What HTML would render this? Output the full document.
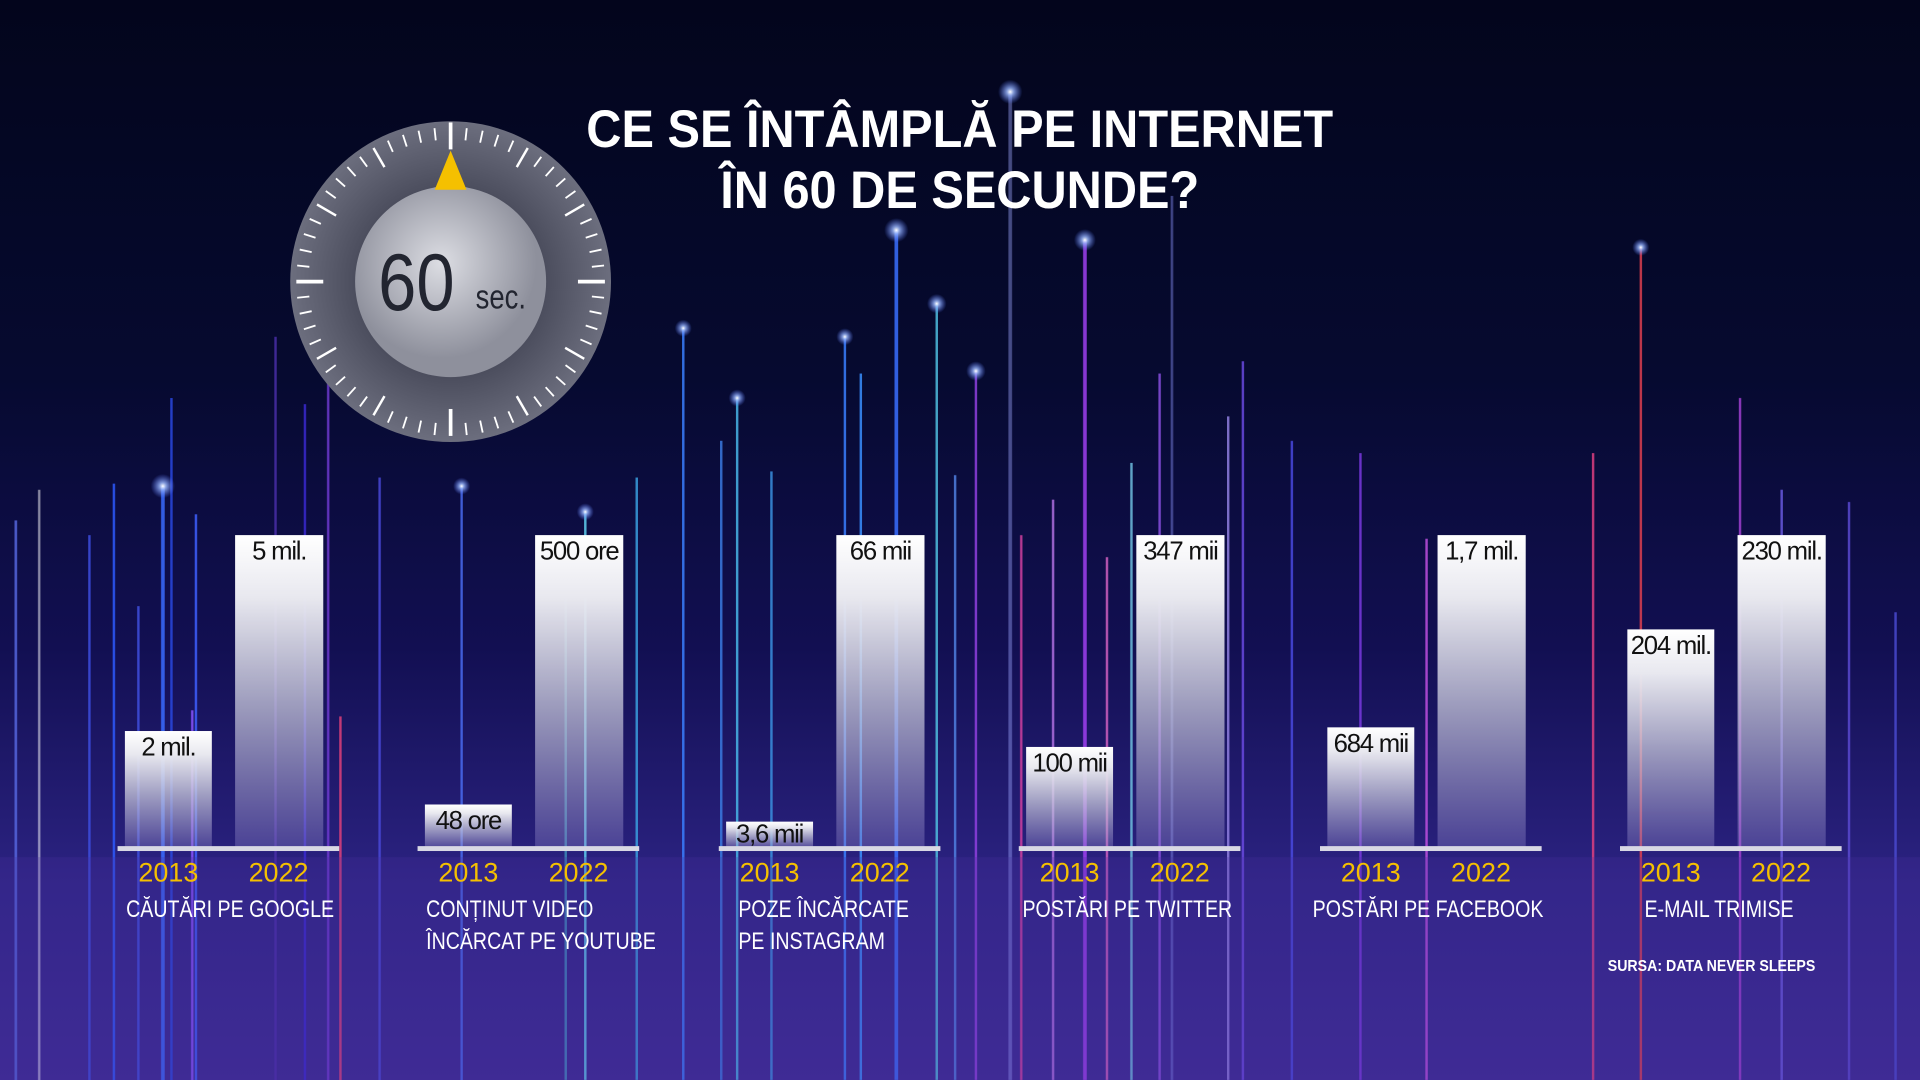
<!DOCTYPE html>
<html><head><meta charset="utf-8"><style>
html,body{margin:0;padding:0;width:1920px;height:1080px;overflow:hidden;background:#050826}
#s{position:absolute;left:0;top:0;width:1568px;height:882px;transform:scale(1.22449);transform-origin:0 0;
background:linear-gradient(180deg,#03051c 0%,#060a30 35%,#120f52 60%,#2c2383 82%,#3b2a92 100%);font-family:"Liberation Sans",sans-serif;overflow:hidden}
svg{position:absolute;left:0;top:0}
.t{position:absolute;left:0;width:1568px;text-align:center;color:#fff;font-family:"Liberation Sans",sans-serif;font-weight:bold;font-size:43px;transform:scaleX(0.925);transform-origin:781px 0}
.bar{position:absolute;background:linear-gradient(180deg,#ffffff 0%,#e8e8ef 20%,rgba(200,200,220,0.75) 55%,rgba(140,130,200,0.35) 100%)}
.v{position:absolute;left:0;right:0;top:2px;text-align:center;color:#111;font-size:21px;font-family:"Liberation Sans",sans-serif;letter-spacing:-1px;white-space:nowrap}
.base{position:absolute;height:4px;background:#d8d8e4;top:691px;width:181px}
.y{position:absolute;top:700px;color:#f5c000;font-size:22px;font-family:"Liberation Sans",sans-serif}
.c{position:absolute;top:730px;color:#fff;font-size:20px;line-height:26px;white-space:nowrap;transform:scaleX(0.8);transform-origin:0 0}
</style></head><body><div id="s">
<svg width="1568" height="882">
<defs>
<radialGradient id="glow"><stop offset="0" stop-color="#fff"/><stop offset="0.3" stop-color="#9bb8ff" stop-opacity="0.8"/><stop offset="1" stop-color="#5a7bff" stop-opacity="0"/></radialGradient>
<radialGradient id="face" cx="0.45" cy="0.4"><stop offset="0" stop-color="#dcdde3"/><stop offset="1" stop-color="#8e909c"/></radialGradient>
<radialGradient id="ring" cx="0.5" cy="0.5"><stop offset="0.6" stop-color="#4c4e5e"/><stop offset="1" stop-color="#6c6e7e"/></radialGradient>
</defs>
<g stroke-width="2" opacity="0.85">
<line x1="13" y1="425" x2="13" y2="882" stroke="#5566dd"/>
<line x1="32" y1="400" x2="32" y2="882" stroke="#ffffff" stroke-width="2" opacity="0.6"/>
<line x1="73" y1="437" x2="73" y2="882" stroke="#3e4ee0"/>
<line x1="93" y1="395" x2="93" y2="882" stroke="#2f5cff"/>
<line x1="113" y1="495" x2="113" y2="882" stroke="#4050e0"/>
<line x1="133" y1="397" x2="133" y2="882" stroke="#3a6cff" stroke-width="3"/>
<line x1="140" y1="325" x2="140" y2="882" stroke="#2a48e0"/>
<line x1="160" y1="420" x2="160" y2="882" stroke="#3f60ff"/>
<line x1="157" y1="580" x2="157" y2="882" stroke="#8a55ff"/>
<line x1="225" y1="275" x2="225" y2="882" stroke="#4a2fa8"/>
<line x1="249" y1="330" x2="249" y2="882" stroke="#3a2ad0"/>
<line x1="268" y1="298" x2="268" y2="882" stroke="#6f3ad0"/>
<line x1="278" y1="585" x2="278" y2="882" stroke="#e0407a"/>
<line x1="310" y1="390" x2="310" y2="882" stroke="#4a4ad8"/>
<line x1="377" y1="397" x2="377" y2="882" stroke="#4a6cf0"/>
<line x1="462" y1="460" x2="462" y2="882" stroke="#4ad0e0" opacity="0.6"/>
<line x1="478" y1="418" x2="478" y2="882" stroke="#60d0f0"/>
<line x1="520" y1="390" x2="520" y2="882" stroke="#3aa0e0"/>
<line x1="558" y1="268" x2="558" y2="882" stroke="#3a80ff"/>
<line x1="589" y1="360" x2="589" y2="882" stroke="#3a7ae0"/>
<line x1="602" y1="325" x2="602" y2="882" stroke="#48b6e8"/>
<line x1="630" y1="385" x2="630" y2="882" stroke="#3a90e0"/>
<line x1="690" y1="275" x2="690" y2="882" stroke="#3a80ff"/>
<line x1="703" y1="305" x2="703" y2="882" stroke="#3a90ff"/>
<line x1="732" y1="188" x2="732" y2="882" stroke="#3a70ff" stroke-width="3"/>
<line x1="765" y1="248" x2="765" y2="882" stroke="#50c0e0"/>
<line x1="780" y1="388" x2="780" y2="882" stroke="#5080e0"/>
<line x1="797" y1="303" x2="797" y2="882" stroke="#9040e0"/>
<line x1="825" y1="75" x2="825" y2="882" stroke="#a0a8ff" stroke-width="3" opacity="0.5"/>
<line x1="834" y1="437" x2="834" y2="882" stroke="#d040a0"/>
<line x1="860" y1="408" x2="860" y2="882" stroke="#b070e0"/>
<line x1="886" y1="196" x2="886" y2="882" stroke="#a040f0" stroke-width="3"/>
<line x1="904" y1="455" x2="904" y2="882" stroke="#d060c0"/>
<line x1="924" y1="378" x2="924" y2="882" stroke="#70c0e0"/>
<line x1="947" y1="305" x2="947" y2="882" stroke="#8a50e0"/>
<line x1="957" y1="160" x2="957" y2="882" stroke="#7a80e0" opacity="0.6"/>
<line x1="1003" y1="340" x2="1003" y2="882" stroke="#9080e0"/>
<line x1="1015" y1="295" x2="1015" y2="882" stroke="#6a4ae0"/>
<line x1="1055" y1="360" x2="1055" y2="882" stroke="#4a4ae0"/>
<line x1="1111" y1="370" x2="1111" y2="882" stroke="#7a3ae0"/>
<line x1="1165" y1="440" x2="1165" y2="882" stroke="#c050e0"/>
<line x1="1301" y1="370" x2="1301" y2="882" stroke="#e04080"/>
<line x1="1340" y1="202" x2="1340" y2="882" stroke="#e04050"/>
<line x1="1421" y1="325" x2="1421" y2="882" stroke="#a040d0"/>
<line x1="1455" y1="400" x2="1455" y2="882" stroke="#6a5ae0"/>
<line x1="1510" y1="410" x2="1510" y2="882" stroke="#5a4ad0"/>
<line x1="1548" y1="500" x2="1548" y2="882" stroke="#4a4ad0"/>
</g>
<g>
<circle cx="133" cy="397" r="10" fill="url(#glow)"/><circle cx="732" cy="188" r="10" fill="url(#glow)"/>
<circle cx="825" cy="75" r="10" fill="url(#glow)"/><circle cx="886" cy="196" r="9" fill="url(#glow)"/>
<circle cx="765" cy="248" r="8" fill="url(#glow)"/><circle cx="558" cy="268" r="7" fill="url(#glow)"/>
<circle cx="690" cy="275" r="7" fill="url(#glow)"/><circle cx="602" cy="325" r="7" fill="url(#glow)"/>
<circle cx="797" cy="303" r="8" fill="url(#glow)"/><circle cx="1340" cy="202" r="7" fill="url(#glow)"/>
<circle cx="377" cy="397" r="7" fill="url(#glow)"/><circle cx="478" cy="418" r="7" fill="url(#glow)"/>
</g>
<rect x="0" y="700" width="1568" height="182" fill="#4a30a0" opacity="0.25"/>
<circle cx="368" cy="230" r="131" fill="url(#ring)"/>
<g stroke="#fff" stroke-width="2" id="ticks"></g>
<circle cx="368" cy="230" r="78" fill="url(#face)"/>
<polygon points="368,123 355,155 381,155" fill="#f5c000"/>
<text x="340" y="253" font-family="Liberation Sans,sans-serif" font-size="66" fill="#222530" text-anchor="middle" transform="translate(340 0) scale(0.85 1) translate(-340 0)">60</text>
<text x="409" y="252" font-family="Liberation Sans,sans-serif" font-size="28" fill="#222530" text-anchor="middle" transform="translate(409 0) scale(0.8 1) translate(-409 0)">sec.</text>
</svg>
<div class="t" style="top:82px">CE SE ÎNTÂMPLĂ PE INTERNET</div>
<div class="t" style="top:132px">ÎN 60 DE SECUNDE?</div>

<div class="bar" style="left:102px;top:597px;width:71px;height:96px"><div class="v">2 mil.</div></div>
<div class="bar" style="left:192px;top:437px;width:72px;height:256px"><div class="v">5 mil.</div></div>
<div class="base" style="left:96px"></div>
<div class="bar" style="left:347px;top:657px;width:71px;height:36px"><div class="v">48 ore</div></div>
<div class="bar" style="left:437px;top:437px;width:72px;height:256px"><div class="v">500 ore</div></div>
<div class="base" style="left:341px"></div>
<div class="bar" style="left:593px;top:671px;width:71px;height:22px"><div class="v" style="top:-1px">3,6 mii</div></div>
<div class="bar" style="left:683px;top:437px;width:72px;height:256px"><div class="v">66 mii</div></div>
<div class="base" style="left:587px"></div>
<div class="bar" style="left:838px;top:610px;width:71px;height:83px"><div class="v">100 mii</div></div>
<div class="bar" style="left:928px;top:437px;width:72px;height:256px"><div class="v">347 mii</div></div>
<div class="base" style="left:832px"></div>
<div class="bar" style="left:1084px;top:594px;width:71px;height:99px"><div class="v">684 mii</div></div>
<div class="bar" style="left:1174px;top:437px;width:72px;height:256px"><div class="v">1,7 mil.</div></div>
<div class="base" style="left:1078px"></div>
<div class="bar" style="left:1329px;top:514px;width:71px;height:179px"><div class="v">204 mil.</div></div>
<div class="bar" style="left:1419px;top:437px;width:72px;height:256px"><div class="v">230 mil.</div></div>
<div class="base" style="left:1323px"></div>

<div class="y" style="left:113px">2013</div><div class="y" style="left:203px">2022</div>
<div class="y" style="left:358px">2013</div><div class="y" style="left:448px">2022</div>
<div class="y" style="left:604px">2013</div><div class="y" style="left:694px">2022</div>
<div class="y" style="left:849px">2013</div><div class="y" style="left:939px">2022</div>
<div class="y" style="left:1095px">2013</div><div class="y" style="left:1185px">2022</div>
<div class="y" style="left:1340px">2013</div><div class="y" style="left:1430px">2022</div>

<div class="c" style="left:103px">CĂUTĂRI PE GOOGLE</div>
<div class="c" style="left:348px">CONȚINUT VIDEO<br>ÎNCĂRCAT PE YOUTUBE</div>
<div class="c" style="left:603px">POZE ÎNCĂRCATE<br>PE INSTAGRAM</div>
<div class="c" style="left:835px">POSTĂRI PE TWITTER</div>
<div class="c" style="left:1072px">POSTĂRI PE FACEBOOK</div>
<div class="c" style="left:1343px">E-MAIL TRIMISE</div>
<div style="position:absolute;left:1313px;top:781px;color:#fff;font-size:13px;font-weight:bold;white-space:nowrap;transform:scaleX(0.89);transform-origin:0 0">SURSA: DATA NEVER SLEEPS</div>
</div>
<script>
var g=document.getElementById('ticks'),s='';
for(var i=0;i<60;i++){var a=i*6*Math.PI/180,big=i%5==0,r1=big?(i%15==0?104:108):116,r2=126;
if(i==0)continue;
s+='<line x1="'+(368+r1*Math.sin(a))+'" y1="'+(230-r1*Math.cos(a))+'" x2="'+(368+r2*Math.sin(a))+'" y2="'+(230-r2*Math.cos(a))+'" stroke-width="'+(i%15==0?3:(big?2:1.5))+'"/>';}
s+='<line x1="368" y1="100" x2="368" y2="122" stroke-width="3"/>';
g.innerHTML=s;
</script>
</body></html>
